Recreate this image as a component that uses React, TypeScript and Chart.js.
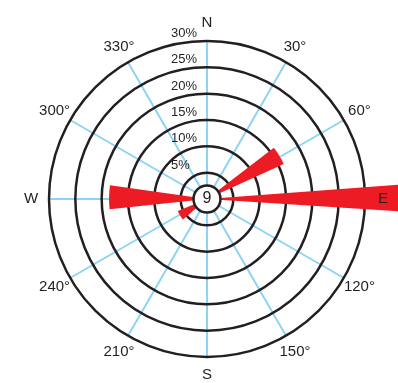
import { useEffect, useRef } from 'react';
import { Chart, registerables } from 'chart.js';

Chart.register(...registerables);

// ---- data ----
const directionLabels = ['N', '30°', '60°', 'E', '120°', '150°', 'S', '210°', '240°', 'W', '300°', '330°'];
const wedgeBearings = [59, 89.7, 238.5, 271]; // degrees clockwise from north
const wedgeSpreads = [13, 8, 18, 14]; // angular width of each wedge, degrees
const wedgeFrequencies = [16, 40, 6, 18.6]; // percent
const calmFrequency = 9;
const radialMax = 30;
const radialStep = 5;

const FONT = '"Liberation Sans", Arial, Helvetica, sans-serif';
const INK = '#231f20';
const RED = '#ed1c24';
const SKY = '#8dd4f4';

function buildSegments() {
  const order = wedgeBearings.map((_, i) => i).sort((a, b) => wedgeBearings[a] - wedgeBearings[b]);
  const values: number[] = [];
  const angles: number[] = [];
  let cursor = 0;
  for (const i of order) {
    const start = wedgeBearings[i] - wedgeSpreads[i] / 2;
    values.push(0);
    angles.push(start - cursor);
    values.push(wedgeFrequencies[i]);
    angles.push(wedgeSpreads[i]);
    cursor = start + wedgeSpreads[i];
  }
  values.push(0);
  angles.push(360 - cursor);
  return { values, angles };
}

const overlayPlugin = {
  id: 'roseOverlay',
  afterDatasetsDraw(chart: any) {
    const scale = chart.scales.r;
    const ctx: CanvasRenderingContext2D = chart.ctx;
    const cx = scale.xCenter;
    const cy = scale.yCenter;
    ctx.save();

    // percentage labels above each ring
    ctx.font = `13px ${FONT}`;
    ctx.fillStyle = INK;
    ctx.textAlign = 'left';
    ctx.textBaseline = 'alphabetic';
    scale.ticks.forEach((t: any) => {
      if (t.value <= 0) return;
      const d = scale.getDistanceFromCenterForValue(t.value);
      ctx.fillText(`${t.value}%`, cx - 36, cy - d - 4);
    });

    // calm circle
    ctx.beginPath();
    ctx.arc(cx, cy, 13.5, 0, Math.PI * 2);
    ctx.fillStyle = '#ffffff';
    ctx.fill();
    ctx.lineWidth = 2.5;
    ctx.strokeStyle = INK;
    ctx.stroke();
    ctx.fillStyle = INK;
    ctx.font = `16px ${FONT}`;
    ctx.textAlign = 'center';
    ctx.textBaseline = 'middle';
    ctx.fillText(String(calmFrequency), cx, cy);

    // direction labels
    ctx.font = `15px ${FONT}`;
    const dist = scale.drawingArea + 18;
    directionLabels.forEach((label, i) => {
      const p = scale.getPointPosition(i, dist);
      ctx.fillText(label, p.x, p.y);
    });
    ctx.restore();
  },
};

export default function App() {
  const canvasRef = useRef<HTMLCanvasElement | null>(null);

  useEffect(() => {
    const canvas = canvasRef.current;
    if (!canvas) return;
    const { values, angles } = buildSegments();
    const chart = new Chart(canvas, {
      type: 'polarArea',
      data: {
        labels: directionLabels,
        datasets: [
          {
            data: values,
            angle: (c: any) => angles[c.dataIndex],
            backgroundColor: RED,
            borderWidth: 0,
            clip: false,
          } as any,
        ],
      },
      options: {
        responsive: false,
        maintainAspectRatio: false,
        animation: false,
        layout: { padding: { left: 49, top: 41, right: 33, bottom: 26 } },
        plugins: { legend: { display: false }, tooltip: { enabled: false } },
        scales: {
          r: {
            type: 'radialLinear',
            min: 0,
            max: radialMax,
            startAngle: 0,
            ticks: { display: false, stepSize: radialStep },
            grid: { display: false, circular: true },
            angleLines: { display: true, color: SKY, lineWidth: 2 },
            pointLabels: { display: false },
          },
          rings: {
            type: 'radialLinear',
            axis: 'r',
            min: 0,
            max: radialMax,
            startAngle: 0,
            ticks: { display: false, stepSize: radialStep },
            grid: { display: true, circular: true, color: INK, lineWidth: 2.5, z: -0.5 },
            angleLines: { display: false },
            pointLabels: { display: false },
          },
        } as any,
      },
      plugins: [overlayPlugin],
    });
    return () => chart.destroy();
  }, []);

  return (
    <div style={{ position: 'fixed', left: 0, top: 0, width: 398, height: 383, background: '#ffffff' }}>
      <canvas ref={canvasRef} width={398} height={383} style={{ display: 'block', width: 398, height: 383 }} />
    </div>
  );
}
